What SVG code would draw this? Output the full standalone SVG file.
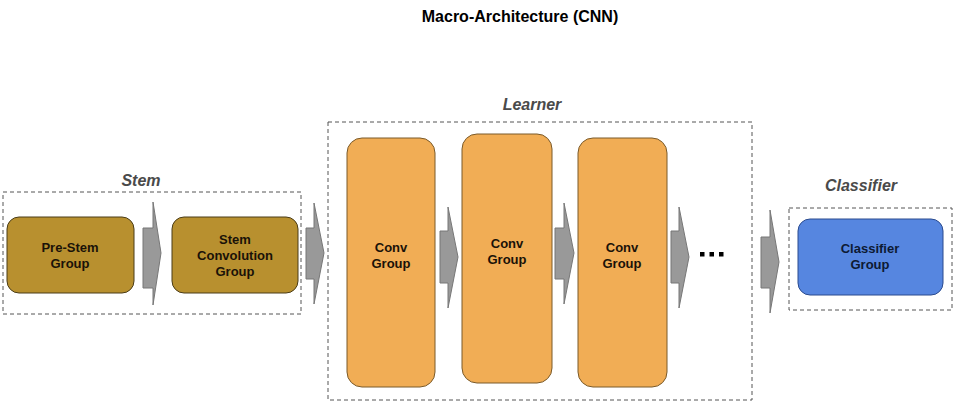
<svg xmlns="http://www.w3.org/2000/svg" width="955" height="415" viewBox="0 0 955 415">
<style>
text{font-family:"Liberation Sans",Arial,sans-serif;font-weight:bold;text-anchor:middle}
.title{font-size:16px;fill:#000}
.lbl{font-size:16px;font-style:italic;fill:#4a4a4a}
.nt{font-size:13px;fill:#1a1208}
.dash{fill:none;stroke:#555;stroke-width:1;stroke-dasharray:4,3}
.stem{fill:#b8902f;stroke:#4a3c18;stroke-width:1}
.conv{fill:#f1ad55;stroke:#7a5a2a;stroke-width:1}
.cls{fill:#5686e0;stroke:#2b4b8e;stroke-width:1}
.arr{fill:#999;stroke:#777;stroke-width:1}
.ct{fill:#0d1a33}
</style>
<rect width="955" height="415" fill="#fff"/>
<text class="title" x="520" y="22">Macro-Architecture (CNN)</text>
<g id="stem-frame">
<rect class="dash" x="3" y="192" width="298" height="122"/>
<text class="lbl" x="141" y="186">Stem</text>
</g>
<g id="learner-frame">
<rect class="dash" x="328" y="122" width="424" height="278"/>
<text class="lbl" x="532" y="110">Learner</text>
</g>
<g id="classifier-frame">
<rect class="dash" x="789" y="208" width="163" height="102"/>
<text class="lbl" x="861" y="191">Classifier</text>
</g>
<g id="pre-stem">
<rect class="stem" x="7" y="217" width="127" height="76" rx="12"/>
<text class="nt" x="70" y="252">Pre-Stem</text>
<text class="nt" x="70" y="268">Group</text>
</g>
<g id="stem-conv">
<rect class="stem" x="172" y="217" width="126" height="76" rx="12"/>
<text class="nt" x="235" y="244">Stem</text>
<text class="nt" x="235" y="260">Convolution</text>
<text class="nt" x="235" y="276">Group</text>
</g>
<g id="conv1">
<rect class="conv" x="347" y="138" width="88" height="249" rx="15"/>
<text class="nt" x="391" y="252">Conv</text>
<text class="nt" x="391" y="268">Group</text>
</g>
<g id="conv2">
<rect class="conv" x="462" y="134" width="90" height="249" rx="15"/>
<text class="nt" x="507" y="248">Conv</text>
<text class="nt" x="507" y="264">Group</text>
</g>
<g id="conv3">
<rect class="conv" x="578" y="138" width="89" height="249" rx="15"/>
<text class="nt" x="622" y="252">Conv</text>
<text class="nt" x="622" y="268">Group</text>
</g>
<g id="classifier">
<rect class="cls" x="798" y="219" width="145" height="76" rx="12"/>
<text class="nt ct" x="870" y="253">Classifier</text>
<text class="nt ct" x="870" y="269">Group</text>
</g>
<g id="connectors">
<polygon class="arr" points="143,228 153,228 153,202 161,253 153,305 153,288 143,288"/>
<polygon class="arr" points="306,228 314,228 314,203 324,253 314,304 314,279 306,279"/>
<polygon class="arr" points="440,231 448,231 448,207 458,257 448,308 448,283 440,283"/>
<polygon class="arr" points="555,228 564,228 564,203 574,253 564,304 564,279 555,279"/>
<polygon class="arr" points="671,231 679,231 679,207 689,257 679,308 679,283 671,283"/>
<polygon class="arr" points="761,237 770,237 770,210 779,262 770,313 770,288 761,288"/>
</g>
<g id="ellipsis">
<rect x="700" y="252" width="4.5" height="4.5" fill="#000"/>
<rect x="709.5" y="252" width="4.5" height="4.5" fill="#000"/>
<rect x="719" y="252" width="4.5" height="4.5" fill="#000"/>
</g>
</svg>
